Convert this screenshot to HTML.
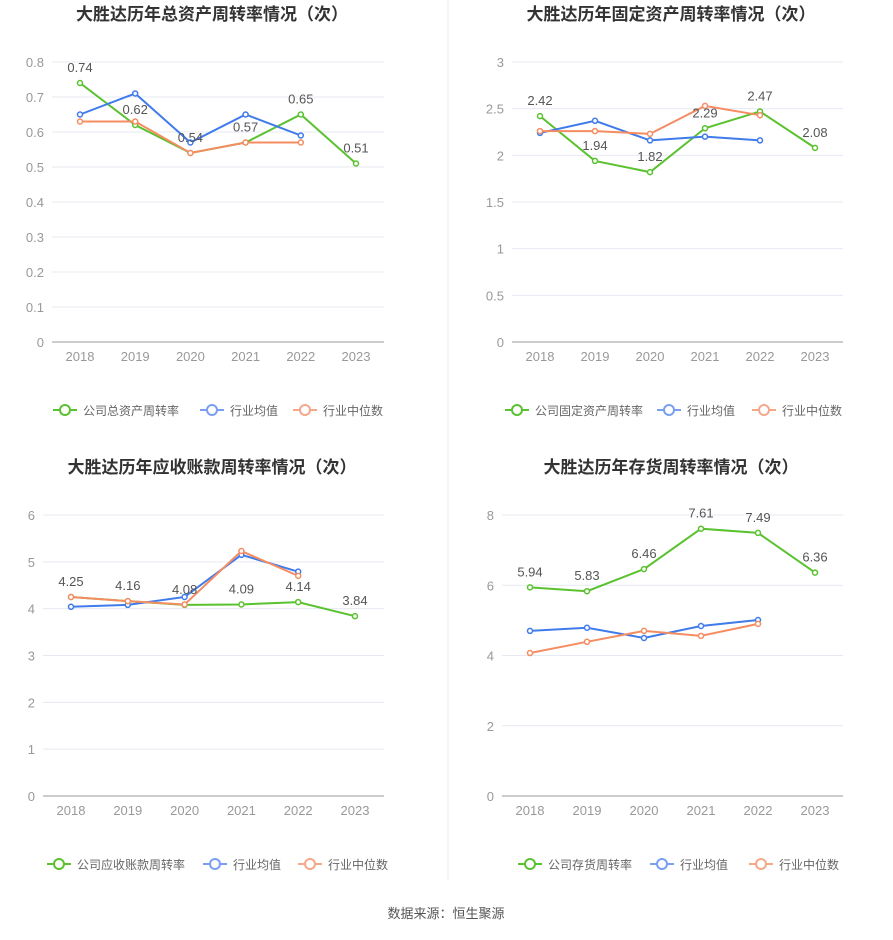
<!DOCTYPE html>
<html><head><meta charset="utf-8"><style>
body{margin:0;background:#fff;font-family:"Liberation Sans","Noto Sans CJK SC",sans-serif;}
svg text{font-family:"Liberation Sans","Noto Sans CJK SC",sans-serif;}
</style></head><body>
<svg id="s" width="893" height="935">
<line x1="448" y1="0" x2="448" y2="880" stroke="#eeeeee"/>
<text x="446" y="918" text-anchor="middle" font-size="13" fill="#555">数据来源：恒生聚源</text>
</svg>
<script>
const years=["2018","2019","2020","2021","2022","2023"];
const c1Company=[0.74,0.62,0.54,0.57,0.65,0.51];
const c1Avg=[0.65,0.71,0.57,0.65,0.59];
const c1Med=[0.63,0.63,0.54,0.57,0.57];
const c1Ticks=[0,0.1,0.2,0.3,0.4,0.5,0.6,0.7,0.8];
const c2Company=[2.42,1.94,1.82,2.29,2.47,2.08];
const c2Avg=[2.24,2.37,2.16,2.2,2.16];
const c2Med=[2.26,2.26,2.23,2.53,2.43];
const c2Ticks=[0,0.5,1,1.5,2,2.5,3];
const c3Company=[4.25,4.16,4.08,4.09,4.14,3.84];
const c3Avg=[4.04,4.08,4.25,5.15,4.79];
const c3Med=[4.25,4.16,4.09,5.23,4.7];
const c3Ticks=[0,1,2,3,4,5,6];
const c4Company=[5.94,5.83,6.46,7.61,7.49,6.36];
const c4Avg=[4.7,4.79,4.5,4.84,5.01];
const c4Med=[4.07,4.39,4.7,4.56,4.9];
const c4Ticks=[0,2,4,6,8];
const svg=document.getElementById('s');
const NS='http://www.w3.org/2000/svg';
function el(t,a,txt){const e=document.createElementNS(NS,t);for(const k in a)e.setAttribute(k,a[k]);if(txt!==undefined)e.textContent=txt;svg.appendChild(e);return e;}
function chart(o){
 const {title,tx,ty,axL,axR,x0,x1,yB,yT,ticks,comp,avg,med,legY,legX,legA,legM,legName,id}=o;
 const max=ticks[ticks.length-1];
 const X=i=>x0+(x1-x0)*i/(years.length-1);
 const Y=v=>yB-(yB-yT)*v/max;
 let e=el('text',{x:tx,y:ty,'text-anchor':'middle','font-size':'17','font-weight':'bold',fill:'#333'},title);
 
 ticks.forEach(t=>{
  e=el('line',{x1:axL,x2:axR,y1:Y(t),y2:Y(t),stroke:t===0?'#999':'#e6e9f2'});
  
  e=el('text',{x:axL-8,y:Y(t)+5,'text-anchor':'end','font-size':'13',fill:'#999'},String(t));
  
 });
 years.forEach((y,i)=>{
  e=el('text',{x:X(i),y:yB+19,'text-anchor':'middle','font-size':'13',fill:'#999'},y);
  
 });
 function series(d,col,nm){
  e=el('polyline',{points:d.map((v,i)=>X(i)+','+Y(v)).join(' '),fill:'none',stroke:col,'stroke-width':'2'});
  
  d.forEach((v,i)=>{
   e=el('circle',{cx:X(i),cy:Y(v),r:2.5,fill:'#fff',stroke:col,'stroke-width':'1.5'});
   
  });
 }
 series(comp,'#5ac12f','company');
 series(avg,'#3f7bea','avg');
 series(med,'#f58c62','median');
 comp.forEach((v,i)=>{e=el('text',{x:X(i),y:Y(v)-11,'text-anchor':'middle','font-size':'13',fill:'#555'},v.toFixed(2));
  });
 const items=[[legName,'#5ac12f',legX],['行业均值','#7a9ff0',legA],['行业中位数','#f5a78a',legM]];
 items.forEach(([n,c,lx])=>{
  e=el('line',{x1:lx,x2:lx+24,y1:legY,y2:legY,stroke:c,'stroke-width':'2'});
  
  e=el('circle',{cx:lx+12,cy:legY,r:5,fill:'#fff',stroke:c,'stroke-width':'2'});
  
  e=el('text',{x:lx+30,y:legY+5,'font-size':'12',fill:'#666'},n);
  
 });
}
chart({id:'c1',title:'大胜达历年总资产周转率情况（次）',tx:212,ty:20,axL:52,axR:384,x0:80,x1:356,yB:342,yT:62,ticks:c1Ticks,comp:c1Company,avg:c1Avg,med:c1Med,legY:410,legX:53,legA:200,legM:293,legName:'公司总资产周转率'});
chart({id:'c2',title:'大胜达历年固定资产周转率情况（次）',tx:671,ty:20,axL:512,axR:843,x0:540,x1:815,yB:342,yT:62,ticks:c2Ticks,comp:c2Company,avg:c2Avg,med:c2Med,legY:410,legX:505,legA:657,legM:752,legName:'公司固定资产周转率'});
chart({id:'c3',title:'大胜达历年应收账款周转率情况（次）',tx:212,ty:473,axL:43,axR:384,x0:71,x1:355,yB:796,yT:515,ticks:c3Ticks,comp:c3Company,avg:c3Avg,med:c3Med,legY:864,legX:47,legA:203,legM:298,legName:'公司应收账款周转率'});
chart({id:'c4',title:'大胜达历年存货周转率情况（次）',tx:671,ty:473,axL:502,axR:843,x0:530,x1:815,yB:796,yT:515,ticks:c4Ticks,comp:c4Company,avg:c4Avg,med:c4Med,legY:864,legX:518,legA:650,legM:749,legName:'公司存货周转率'});
</script>
</body></html>
